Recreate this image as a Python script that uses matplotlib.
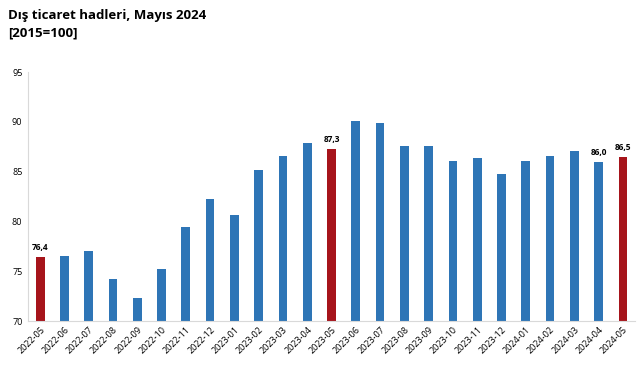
import matplotlib.pyplot as plt
import numpy as np

months = ['2022-05', '2022-06', '2022-07', '2022-08', '2022-09', '2022-10', '2022-11',
          '2022-12', '2023-01', '2023-02', '2023-03', '2023-04', '2023-05', '2023-06',
          '2023-07', '2023-08', '2023-09', '2023-10', '2023-11', '2023-12', '2024-01',
          '2024-02', '2024-03', '2024-04', '2024-05']
values = [76.4, 76.5, 77.0, 74.2, 72.3, 75.2, 79.4, 82.3, 80.6, 85.2, 86.6, 87.9, 87.3,
          90.1, 89.9, 87.6, 87.6, 86.1, 86.4, 84.8, 86.1, 86.6, 87.1, 86.0, 86.5]
highlight = ['2022-05', '2023-05', '2024-05']
labelled = ['2022-05', '2023-05', '2024-04', '2024-05']
yticks = [70, 75, 80, 85, 90, 95]

plt.rcParams['font.family'] = ['Open Sans', 'DejaVu Sans']

fig = plt.figure(figsize=(6.41, 3.80), dpi=100)
ax = fig.add_axes([0.0437, 0.155, 0.947, 0.6555])

x = np.arange(len(months))
colors = ['#A6141B' if m in highlight else '#2E75B6' for m in months]
ax.bar(x, values, width=0.36, color=colors, bottom=0)

for i, (m, v) in enumerate(zip(months, values)):
    if m in labelled:
        ax.text(i, v + 0.5, f'{v:.1f}'.replace('.', ','), ha='center', va='bottom',
                fontsize=6, fontweight='bold')

ax.set_xlim(-0.5, len(months) - 0.5)
ax.set_ylim(70, 95)
ax.set_yticks(yticks)
ax.set_yticklabels([str(t) for t in yticks], fontsize=6.5)
ax.set_xticks(x)
ax.set_xticklabels(months, rotation=45, ha='right', rotation_mode='anchor', fontsize=6.5)
ax.tick_params(axis='both', length=0, pad=4)
ax.tick_params(axis='x', pad=3)

for s in ['top', 'right']:
    ax.spines[s].set_visible(False)
ax.spines['left'].set_color('#D9D9D9')
ax.spines['bottom'].set_color('#D9D9D9')

fig.text(0.0125, 0.96, 'Dış ticaret hadleri, Mayıs 2024', fontsize=9.5, fontweight='bold', va='center')
fig.text(0.0125, 0.912, '[2015=100]', fontsize=9.5, fontweight='bold', va='center')

fig.savefig('out.png', dpi=100)
